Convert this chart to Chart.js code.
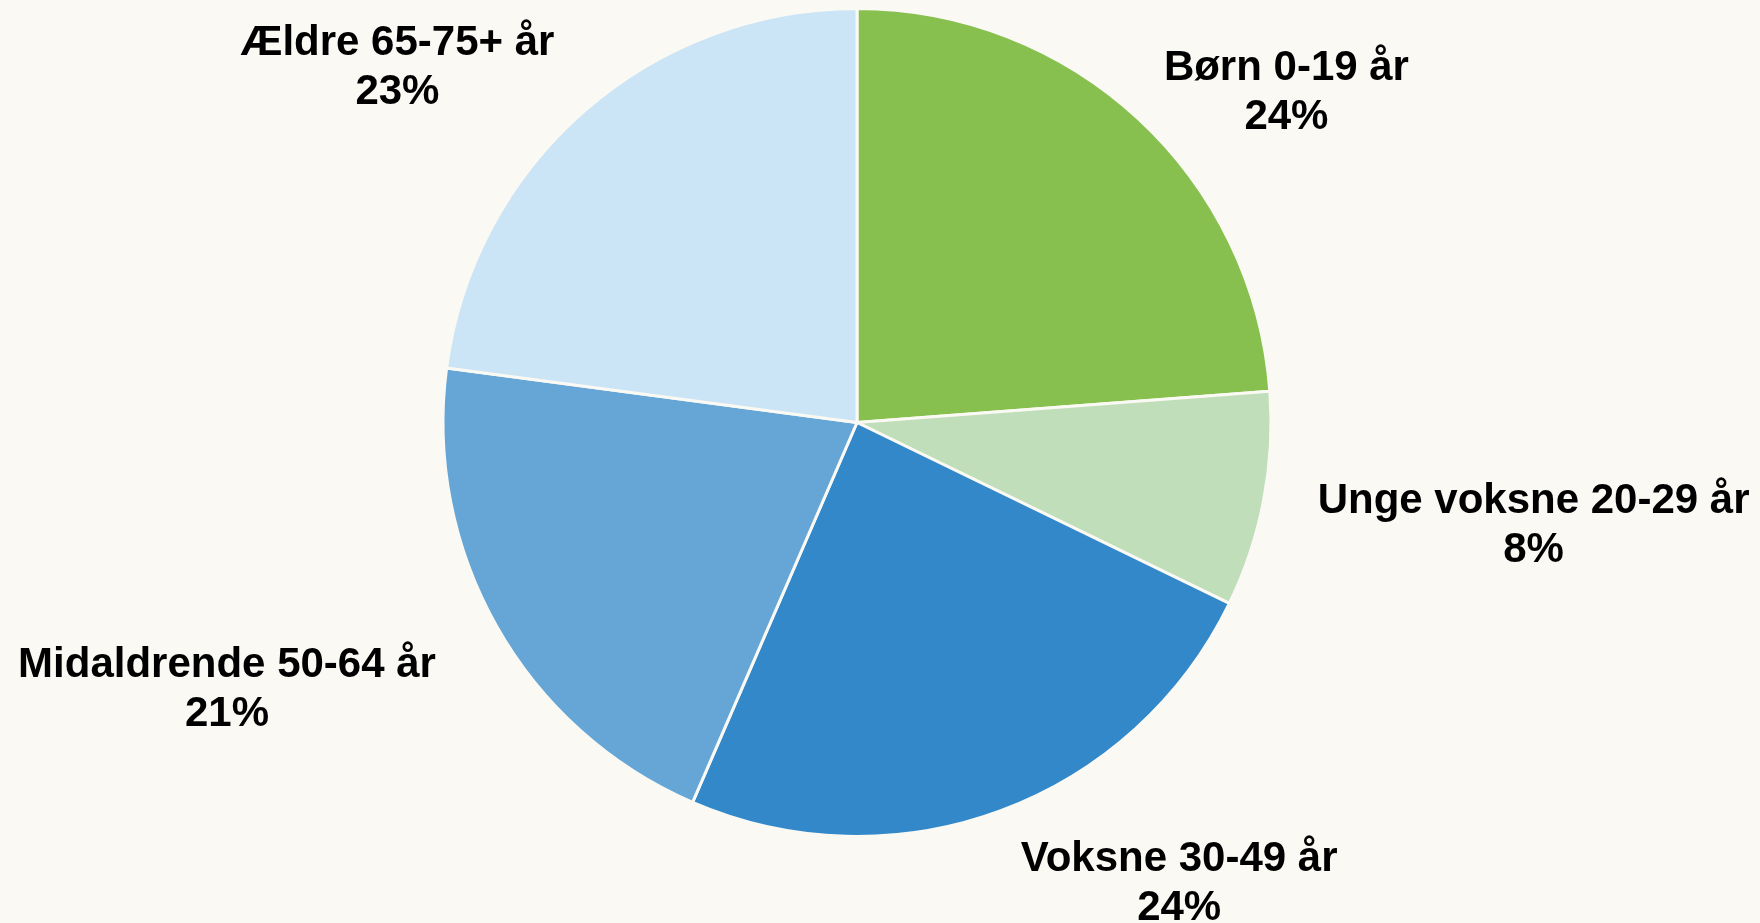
<!DOCTYPE html>
<html lang="da">
<head>
<meta charset="utf-8">
<title>Aldersfordeling</title>
<script src="https://cdn.jsdelivr.net/npm/chart.js@4.4.1/dist/chart.umd.min.js"></script>
<style>
  html, body { margin: 0; padding: 0; background: #faf9f4; overflow: hidden; }
  #wrap { width: 1760px; height: 923px; position: relative; }
</style>
</head>
<body>
<div id="wrap"><canvas id="pieChart"></canvas></div>
<script>
// Aldersgrupper (med uret fra kl. 12)
const categories = ['Børn 0-19 år', 'Unge voksne 20-29 år', 'Voksne 30-49 år', 'Midaldrende 50-64 år', 'Ældre 65-75+ år'];
// Andel i procent
const shares = [23.8, 8.4, 24.3, 20.6, 22.9];
const sliceColors = ['#87c04f', '#bfdeb9', '#3388c9', '#65a6d6', '#cbe5f6'];

// Finjustering af etiketternes placering (px)
const labelNudge = [[6, 31], [26, -22], [10, 4], [-36, 6], [-11, 14]];

const bgColor = '#faf9f4';
const labelFont = 'bold 42px "Liberation Sans", Arial, Helvetica, sans-serif';
const lineHeight = 49;
const capHeight = 30;

// Plugin der tegner etiketter uden for lagkagen
const outsideLabels = {
    id: 'outsideLabels',
    afterDatasetsDraw(chart) {
        const ctx = chart.ctx;
        const meta = chart.getDatasetMeta(0);
        const data = chart.data.datasets[0].data;
        const total = data.reduce((a, b) => a + b, 0);
        ctx.save();
        ctx.font = labelFont;
        ctx.fillStyle = '#000';
        ctx.textAlign = 'center';
        ctx.textBaseline = 'alphabetic';
        meta.data.forEach((arc, i) => {
            const p = arc.getProps(['x', 'y', 'startAngle', 'endAngle', 'outerRadius'], true);
            const mid = (p.startAngle + p.endAngle) / 2;
            const dx = Math.cos(mid), dy = Math.sin(mid);
            const lines = [chart.data.labels[i], Math.round(data[i] / total * 100) + '%'];
            const w = Math.max(...lines.map(t => ctx.measureText(t).width));
            const h = capHeight + lineHeight;
            const r = p.outerRadius - 1.5 + 30;
            const cx = p.x + r * dx + Math.sign(dx) * w / 2 + labelNudge[i][0];
            const cy = p.y + r * dy + Math.sign(dy) * h / 2 + labelNudge[i][1];
            const base = cy - h / 2 + capHeight;
            lines.forEach((t, k) => ctx.fillText(t, cx, base + k * lineHeight));
        });
        ctx.restore();
    }
};

const ctx = document.getElementById('pieChart').getContext('2d');
const pieChart = new Chart(ctx, {
    type: 'pie',
    data: {
        labels: categories,
        datasets: [{
            data: shares,
            backgroundColor: sliceColors,
            borderColor: bgColor,
            borderWidth: 3
        }]
    },
    options: {
        responsive: true,
        maintainAspectRatio: false,
        animation: false,
        layout: { padding: { top: 7, bottom: 85, left: 0, right: 46 } },
        plugins: {
            legend: { display: false },
            tooltip: { enabled: false }
        }
    },
    plugins: [outsideLabels]
});
</script>
</body>
</html>
